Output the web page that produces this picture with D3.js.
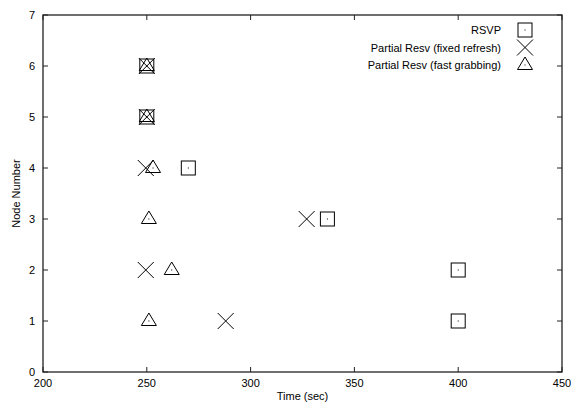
<!DOCTYPE html>
<html>
<head>
<meta charset="utf-8">
<script src="https://cdn.jsdelivr.net/npm/d3@7.9.0/dist/d3.min.js"></script>
<style>
  body { margin: 0; background: #fff; }
  svg text { font-family: "Liberation Sans", Arial, sans-serif; font-size: 11px; fill: #000; }
</style>
</head>
<body>
<svg id="chart" width="573" height="407"></svg>
<script>
// data
const seriesNames = ['RSVP', 'Partial Resv (fixed refresh)', 'Partial Resv (fast grabbing)'];
const rsvp      = [[250, 6], [250, 5], [270, 4], [337, 3], [400, 2], [400, 1]];
const fixedRef  = [[250, 6], [250, 5], [249.5, 4], [327, 3], [249.5, 2], [288, 1]];
const fastGrab  = [[250, 6], [250, 5], [253, 4], [251, 3], [262, 2], [251, 1]];
const xTicks = [200, 250, 300, 350, 400, 450];
const yTicks = [0, 1, 2, 3, 4, 5, 6, 7];

const svg = d3.select('#chart');
const m = { left: 43, right: 562, top: 15, bottom: 372 };

const x = d3.scaleLinear().domain([200, 450]).range([m.left, m.right]);
const y = d3.scaleLinear().domain([0, 7]).range([m.bottom, m.top]);

const frame = svg.append('g');
const tk = 5;

// ticks, inward on all four sides
xTicks.forEach(v => {
  frame.append('line').attr('x1', x(v)).attr('x2', x(v)).attr('y1', m.bottom).attr('y2', m.bottom - tk);
  frame.append('line').attr('x1', x(v)).attr('x2', x(v)).attr('y1', m.top).attr('y2', m.top + tk);
  frame.append('text').attr('x', x(v)).attr('y', m.bottom + 15).attr('text-anchor', 'middle').text(v);
});
yTicks.forEach(v => {
  frame.append('line').attr('x1', m.left).attr('x2', m.left + tk).attr('y1', y(v)).attr('y2', y(v));
  frame.append('line').attr('x1', m.right).attr('x2', m.right - tk).attr('y1', y(v)).attr('y2', y(v));
  frame.append('text').attr('x', m.left - 8).attr('y', y(v) + 4).attr('text-anchor', 'end').text(v);
});
frame.selectAll('line').attr('stroke', '#222').attr('stroke-width', 1);

frame.append('rect')
  .attr('x', m.left).attr('y', m.top)
  .attr('width', m.right - m.left).attr('height', m.bottom - m.top)
  .attr('fill', 'none').attr('stroke', '#222').attr('stroke-width', 1.3);

svg.append('text').attr('x', (m.left + m.right) / 2).attr('y', 400)
  .attr('text-anchor', 'middle').text('Time (sec)');
svg.append('text').attr('transform', `translate(20,${(m.top + m.bottom) / 2}) rotate(-90)`)
  .attr('text-anchor', 'middle').text('Node Number');

// marker painters
function square(g, cx, cy) {
  g.append('rect').attr('x', cx - 7).attr('y', cy - 7).attr('width', 14).attr('height', 14)
    .attr('fill', 'none').attr('stroke', '#000').attr('stroke-width', 1);
  g.append('rect').attr('x', cx - 0.5).attr('y', cy - 0.5).attr('width', 1).attr('height', 1).attr('fill', '#000');
}
function cross(g, cx, cy) {
  g.append('path').attr('d', `M${cx - 8},${cy - 8}L${cx + 8},${cy + 8}M${cx - 8},${cy + 8}L${cx + 8},${cy - 8}`)
    .attr('stroke', '#000').attr('stroke-width', 1).attr('fill', 'none');
}
function triangle(g, cx, cy) {
  g.append('path').attr('d', `M${cx},${cy - 8}L${cx + 7.5},${cy + 4.5}L${cx - 7.5},${cy + 4.5}Z`)
    .attr('stroke', '#000').attr('stroke-width', 1).attr('fill', 'none');
  g.append('rect').attr('x', cx - 0.5).attr('y', cy - 0.5).attr('width', 1).attr('height', 1).attr('fill', '#000');
}
const painters = [square, cross, triangle];
const allSeries = [rsvp, fixedRef, fastGrab];

const marks = svg.append('g');
allSeries.forEach((s, i) => {
  s.forEach(([t, n]) => painters[i](marks, x(t), y(n)));
});

// legend
const legend = svg.append('g');
seriesNames.forEach((name, i) => {
  const ly = 30 + i * 17.5;
  legend.append('text').attr('x', 501).attr('y', ly + 4).attr('text-anchor', 'end').text(name);
  painters[i](legend, 525, ly);
});
</script>
</body>
</html>
